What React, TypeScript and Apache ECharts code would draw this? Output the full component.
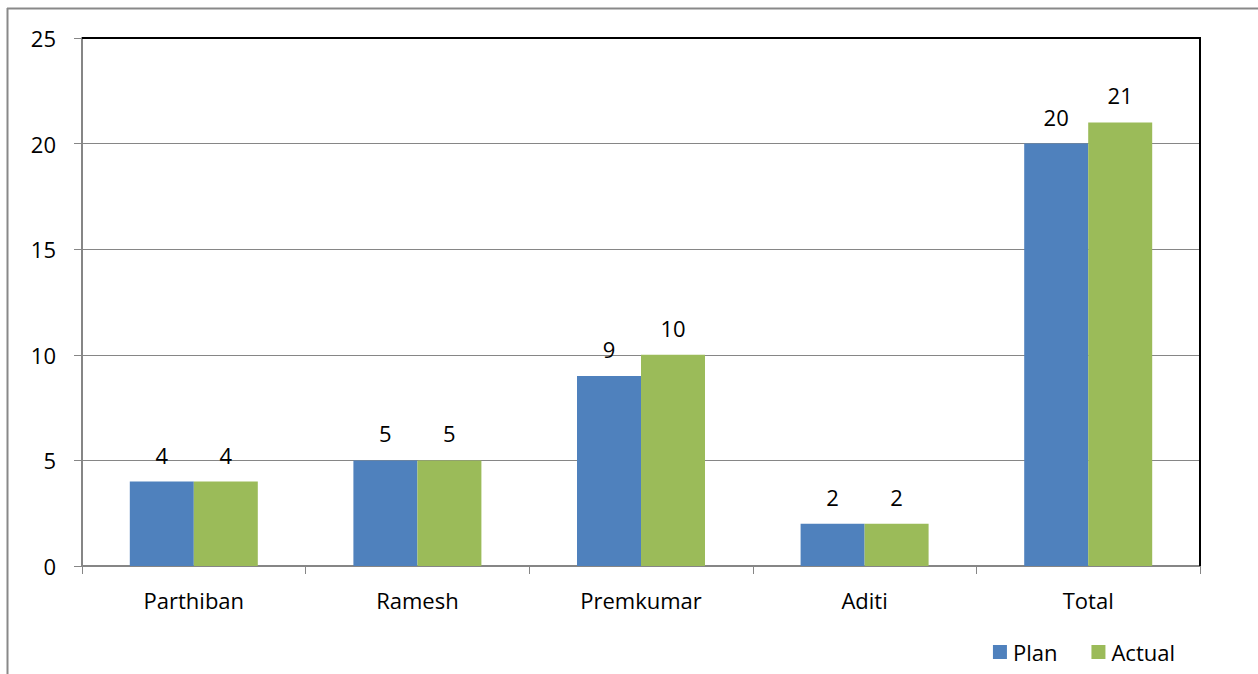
import React, { useEffect, useRef } from "react";
import * as echarts from "echarts";

const categories = ["Parthiban", "Ramesh", "Premkumar", "Aditi", "Total"];
const planValues = [4, 5, 9, 2, 20];
const actualValues = [4, 5, 10, 2, 21];
const seriesNames = ["Plan", "Actual"];
const yTicks = { min: 0, max: 25, interval: 5 };

const FONT = "'Open Sans', sans-serif";
const FS = 22;

export default function App() {
  const ref = useRef<HTMLDivElement>(null);
  useEffect(() => {
    document.body.style.margin = "0";
    const chart = echarts.init(ref.current!, null, { renderer: "svg" });
    const L = 82, T = 38, R = 1200, B = 566;
    chart.setOption({
      animation: false,
      backgroundColor: "#ffffff",
      textStyle: { fontFamily: FONT },
      grid: { left: L, top: T, width: R - L, height: B - T, containLabel: false },
      legend: {
        data: seriesNames,
        right: 78,
        top: 636,
        itemWidth: 14,
        itemHeight: 14,
        itemGap: 34,
        icon: "rect",
        textStyle: { fontFamily: FONT, fontSize: FS, color: "#000", padding: [0, 0, 0, 1] },
      },
      xAxis: {
        type: "category",
        data: categories,
        boundaryGap: true,
        axisLine: { lineStyle: { color: "#868686", width: 2 } },
        axisTick: { show: true, length: 8, alignWithLabel: false, lineStyle: { color: "#868686", width: 1 } },
        axisLabel: { color: "#000", fontSize: FS, fontFamily: FONT, margin: 23 },
      },
      yAxis: {
        type: "value",
        min: yTicks.min,
        max: yTicks.max,
        interval: yTicks.interval,
        axisLine: { show: true, lineStyle: { color: "#868686", width: 2 } },
        axisTick: { show: true, length: 8, lineStyle: { color: "#868686", width: 1 } },
        axisLabel: { color: "#000", fontSize: FS, fontFamily: FONT, margin: 26 },
        splitLine: { show: true, lineStyle: { color: "#868686", width: 1 } },
      },
      series: [
        {
          name: seriesNames[0],
          type: "bar",
          data: planValues,
          barWidth: 64,
          barGap: "0%",
          itemStyle: { color: "#4F81BD" },
          label: { show: true, position: "top", distance: 16, color: "#000", fontSize: FS, fontFamily: FONT },
        },
        {
          name: seriesNames[1],
          type: "bar",
          data: actualValues,
          barWidth: 64,
          barGap: "0%",
          itemStyle: { color: "#9BBB59" },
          label: { show: true, position: "top", distance: 16, color: "#000", fontSize: FS, fontFamily: FONT },
        },
      ],
      graphic: [
        { type: "line", z: 100, shape: { x1: 7, y1: 8.5, x2: 1258, y2: 8.5 }, style: { stroke: "#898989", lineWidth: 2 } },
        { type: "line", z: 100, shape: { x1: 7.5, y1: 8, x2: 7.5, y2: 674 }, style: { stroke: "#898989", lineWidth: 2 } },
        { type: "line", z: 100, shape: { x1: L, y1: T, x2: R + 1, y2: T }, style: { stroke: "#000", lineWidth: 2 } },
        { type: "line", z: 100, shape: { x1: R, y1: T, x2: R, y2: B }, style: { stroke: "#000", lineWidth: 2 } },
      ],
    });
    return () => chart.dispose();
  }, []);
  return <div ref={ref} style={{ width: 1258, height: 674 }} />;
}
